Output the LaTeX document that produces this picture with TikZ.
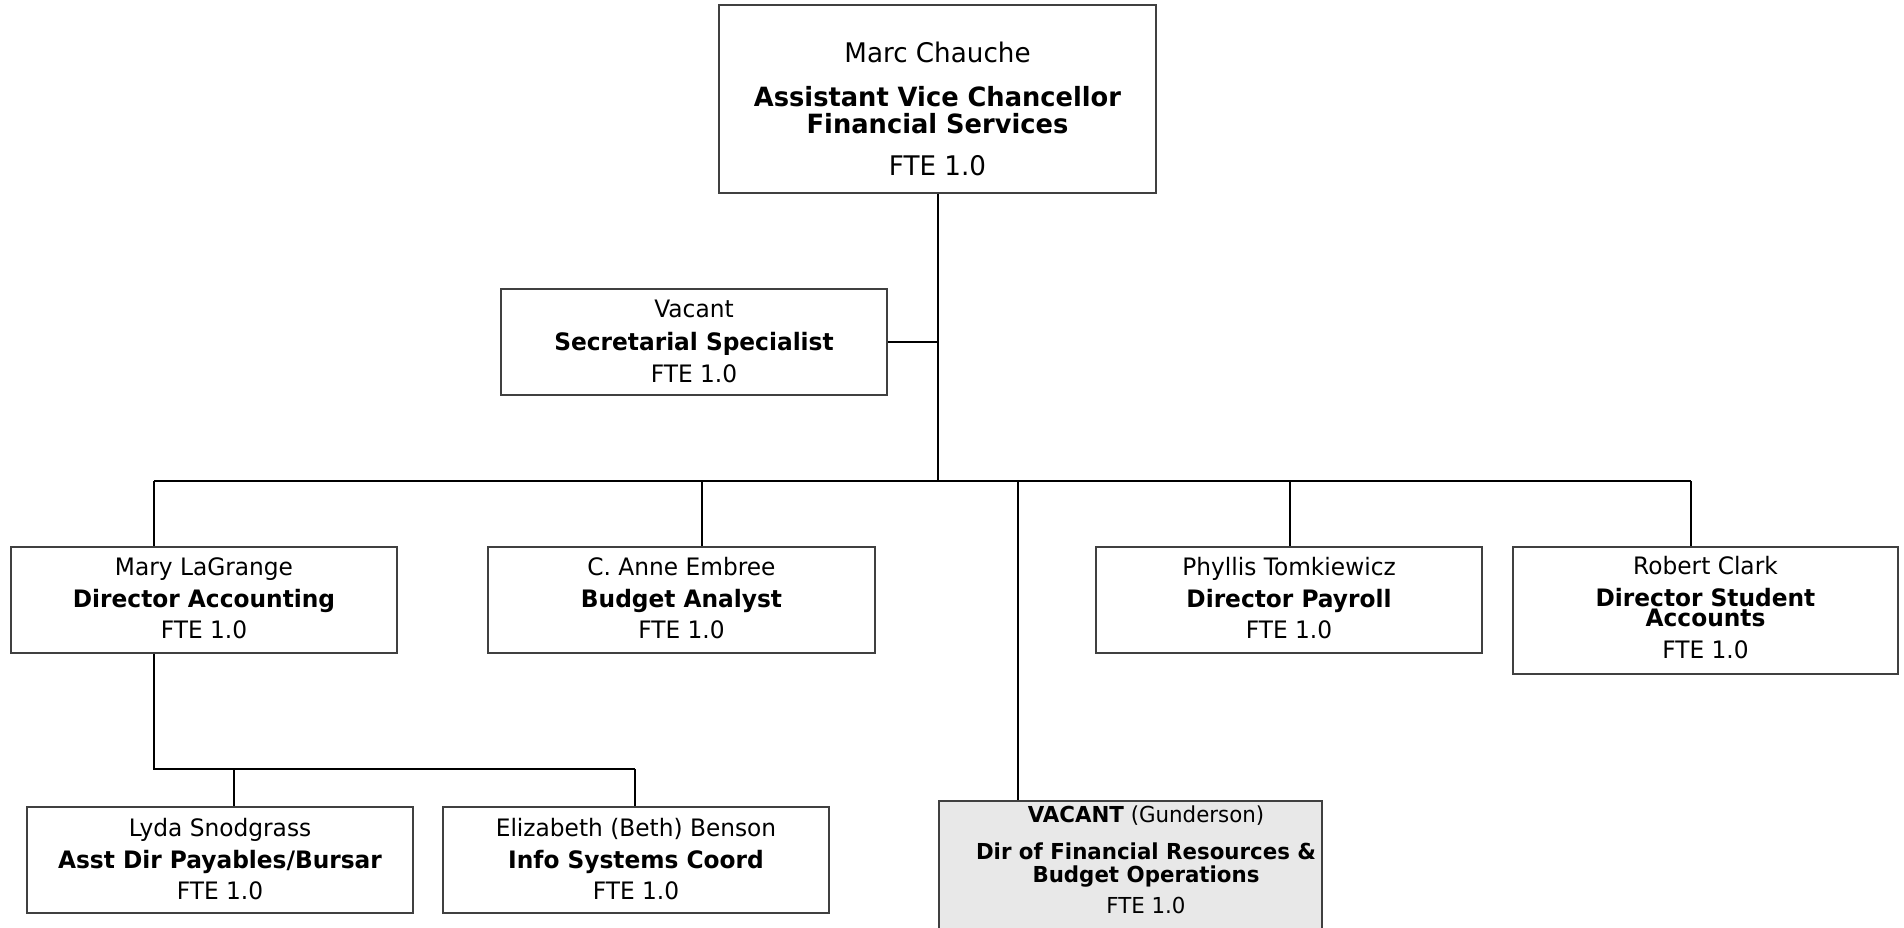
\documentclass[tikz,border=0pt]{standalone}
\usepackage{fontspec}
\setmainfont{DejaVu Sans}[FakeStretch=0.97]
\begin{document}
\begin{tikzpicture}[x=1pt,y=-1pt,
  box/.style={draw=black!75, line width=1.5pt, fill=white, inner sep=0pt},
  wire/.style={draw=black, line width=2pt},
  nm/.style={anchor=base, inner sep=0pt, font=\fontsize{24}{28}\selectfont},
  ttl/.style={anchor=base, inner sep=0pt, font=\fontsize{24}{28}\selectfont\bfseries},
  bignm/.style={anchor=base, inner sep=0pt, font=\fontsize{27}{30}\selectfont},
  bigttl/.style={anchor=base, inner sep=0pt, font=\fontsize{26.5}{30}\selectfont\bfseries},
  smnm/.style={anchor=base, inner sep=0pt, font=\fontsize{22}{26}\selectfont},
  smttl/.style={anchor=base, inner sep=0pt, font=\fontsize{22}{26}\selectfont\bfseries}]
\useasboundingbox (0,0) rectangle (1904,928);

\coordinate (busL) at (154,481);
\coordinate (busR) at (1691,481);
\coordinate (jB) at (702,481);
\coordinate (jV) at (1018,481);
\coordinate (jP) at (1290,481);
\coordinate (sub) at (154,769);
\coordinate (subL) at (234,769);
\coordinate (subR) at (635,769);

% boxes
\node[box, minimum width=437pt, minimum height=188pt] (top) at (937.5,99) {};
\node[box, minimum width=386pt, minimum height=106pt] (sec) at (694,342) {};
\node[box, minimum width=386pt, minimum height=106pt] (mary) at (204,600) {};
\node[box, minimum width=387pt, minimum height=106pt] (budget) at (681.5,600) {};
\node[box, minimum width=386pt, minimum height=106pt] (phyllis) at (1289,600) {};
\node[box, minimum width=385pt, minimum height=127pt] (robert) at (1705.5,610.5) {};
\node[box, minimum width=386pt, minimum height=106pt] (lyda) at (220,860) {};
\node[box, minimum width=386pt, minimum height=106pt] (beth) at (636,860) {};
\node[box, fill=black!9, minimum width=383pt, minimum height=150pt] (vacant) at (1130.5,876) {};

% connectors
\draw[wire] (top.south) -- (top.south |- busL);
\draw[wire] (sec.east) -- (sec.east -| top.south);
\draw[wire] (busL) -- (busR);
\draw[wire] (busL) -- (busL |- mary.north);
\draw[wire] (jB) -- (jB |- budget.north);
\draw[wire] (jV) -- (jV |- vacant.north);
\draw[wire] (jP) -- (jP |- phyllis.north);
\draw[wire] (busR) -- (busR |- robert.north);
\draw[wire] (busL |- mary.south) -- (sub) -- (subR);
\draw[wire] (subL) -- (subL |- lyda.north);
\draw[wire] (subR) -- (subR |- beth.north);

% texts
\node[bignm] (topA) at (937.5,63) {Marc Chauche};
\node[bigttl] (topB) at (937.5,107) {Assistant Vice Chancellor};
\node[bigttl] (topC) at (937.5,134) {Financial Services};
\node[bignm] (topD) at (937.5,176) {FTE 1.0};

\node[nm] (secA) at (694,317) {Vacant};
\node[ttl] (secB) at (694,350) {Secretarial Specialist};
\node[nm] (secC) at (694,382) {FTE 1.0};

\node[nm] (maryA) at (204,575) {Mary LaGrange};
\node[ttl] (maryB) at (204,607) {Director Accounting};
\node[nm] (maryC) at (204,638) {FTE 1.0};

\node[nm] (budgetA) at (681.5,575) {C. Anne Embree};
\node[ttl] (budgetB) at (681.5,607) {Budget Analyst};
\node[nm] (budgetC) at (681.5,638) {FTE 1.0};

\node[nm] (phyllisA) at (1289,575) {Phyllis Tomkiewicz};
\node[ttl] (phyllisB) at (1289,607) {Director Payroll};
\node[nm] (phyllisC) at (1289,638) {FTE 1.0};

\node[nm] (robertA) at (1705.5,574) {Robert Clark};
\node[ttl] (robertB) at (1705.5,606) {Director Student};
\node[ttl] (robertC) at (1705.5,626) {Accounts};
\node[nm] (robertD) at (1705.5,658) {FTE 1.0};

\node[nm] (lydaA) at (220,836) {Lyda Snodgrass};
\node[ttl] (lydaB) at (220,868) {Asst Dir Payables/Bursar};
\node[nm] (lydaC) at (220,899) {FTE 1.0};

\node[nm] (bethA) at (636,836) {Elizabeth (Beth) Benson};
\node[ttl] (bethB) at (636,868) {Info Systems Coord};
\node[nm] (bethC) at (636,899) {FTE 1.0};

\node[smnm] (vacA) at (1146,822) {\textbf{VACANT} (Gunderson)};
\node[smttl] (vacB) at (1146,859) {Dir of Financial Resources \&};
\node[smttl] (vacC) at (1146,882) {Budget Operations};
\node[smnm] (vacD) at (1146,913) {FTE 1.0};
\end{tikzpicture}
\end{document}
